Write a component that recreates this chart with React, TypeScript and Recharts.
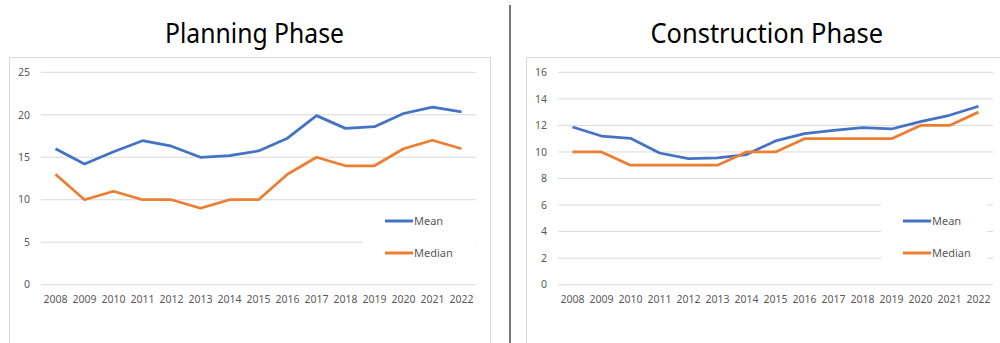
import React from "react";
import { LineChart, Line, XAxis, YAxis, CartesianGrid, Legend } from "recharts";

const years = ["2008","2009","2010","2011","2012","2013","2014","2015","2016","2017","2018","2019","2020","2021","2022"];
const planningMean = [16.0, 14.2, 15.65, 16.95, 16.3, 15.0, 15.2, 15.75, 17.25, 19.9, 18.4, 18.6, 20.15, 20.9, 20.35];
const planningMedian = [13, 10, 11, 10, 10, 9, 10, 10, 13, 15, 14, 14, 16, 17, 16];
const constructionMean = [11.88, 11.2, 11.03, 9.92, 9.5, 9.55, 9.8, 10.83, 11.38, 11.63, 11.83, 11.73, 12.29, 12.76, 13.44];
const constructionMedian = [10, 10, 9, 9, 9, 9, 10, 10, 11, 11, 11, 11, 12, 12, 13];
const planningTicks = [0, 5, 10, 15, 20, 25];
const constructionTicks = [0, 2, 4, 6, 8, 10, 12, 14, 16];

const BLUE = "#4472C4";
const ORANGE = "#ED7D31";
const TEXT = "#595959";
const GRID = "#d9d9d9";
const FONT = "'Noto Sans', sans-serif";

const build = (mean: number[], median: number[]) =>
  years.map((y, i) => ({ year: y, Mean: mean[i], Median: median[i] }));

const planningData = build(planningMean, planningMedian);
const constructionData = build(constructionMean, constructionMedian);

const LegendBox = ({ width }: { width: number }) => (
  <div style={{ width, height: 59, background: "#ffffff", position: "relative", fontFamily: FONT, fontSize: 11, color: TEXT }}>
    {[{ name: "Mean", color: BLUE, y: 17.7 }, { name: "Median", color: ORANGE, y: 49.5 }].map((it) => (
      <div key={it.name} style={{ position: "absolute", left: 22, top: it.y - 8, height: 16, display: "flex", alignItems: "center" }}>
        <svg width={28} height={4} style={{ display: "block" }}>
          <line x1={0} y1={2} x2={28} y2={2} stroke={it.color} strokeWidth={3} />
        </svg>
        <span style={{ marginLeft: 1, lineHeight: "16px" }}>{it.name}</span>
      </div>
    ))}
  </div>
);

const Panel = ({ data, ticks, max, legendLeft, legendWidth, marginLeft, marginRight }: any) => (
  <LineChart
    width={500}
    height={343}
    data={data}
    margin={{ top: 72.3, right: marginRight, bottom: 28.3, left: marginLeft }}
  >
    <CartesianGrid vertical={false} stroke={GRID} strokeWidth={1} />
    <XAxis
      dataKey="year"
      scale="band"
      axisLine={false}
      tickLine={false}
      tickSize={6}
      tickMargin={5}
      height={30}
      interval={0}
      tick={{ fill: TEXT, fontSize: 10.5, fontFamily: FONT }}
    />
    <YAxis
      domain={[0, max]}
      ticks={ticks}
      axisLine={false}
      tickLine={false}
      tickSize={6}
      tickMargin={5}
      width={41}
      tick={{ fill: TEXT, fontSize: 10.5, fontFamily: FONT }}
    />
    <Legend
      layout="horizontal"
      verticalAlign="middle"
      align="center"
      wrapperStyle={{ position: "absolute", left: legendLeft, top: 203, width: legendWidth, height: 59 }}
      content={() => <LegendBox width={legendWidth} />}
    />
    <Line dataKey="Mean" stroke={BLUE} strokeWidth={2.75} dot={false} isAnimationActive={false} strokeLinejoin="round" />
    <Line dataKey="Median" stroke={ORANGE} strokeWidth={2.75} dot={false} isAnimationActive={false} strokeLinejoin="round" />
  </LineChart>
);

export default function App() {
  return (
    <div style={{ position: "absolute", left: 0, top: 0, width: 1000, height: 343, overflow: "hidden", background: "#fff" }}>
      <div style={{ position: "absolute", left: 9, top: 57, width: 480, height: 320, border: `1px solid ${GRID}` }} />
      <div style={{ position: "absolute", left: 526, top: 57, width: 500, height: 320, border: `1px solid ${GRID}` }} />
      <div style={{ position: "absolute", left: 509, top: 5, width: 2, height: 340, background: "#777777" }} />
      <svg width={1000} height={55} style={{ position: "absolute", left: 0, top: 0 }}>
        <text x={165} y={42.7} fontSize={28} fontFamily="'Noto Sans', sans-serif" fill="#000" textLength={179} lengthAdjust="spacingAndGlyphs">Planning Phase</text>
        <text x={650.5} y={42.7} fontSize={28} fontFamily="'Noto Sans', sans-serif" fill="#000" textLength={232.5} lengthAdjust="spacingAndGlyphs">Construction Phase</text>
      </svg>
      <div style={{ position: "absolute", left: 0, top: 0 }}>
        <Panel data={planningData} ticks={planningTicks} max={25} legendLeft={363} legendWidth={112} marginLeft={0} marginRight={24} />
      </div>
      <div style={{ position: "absolute", left: 500, top: 0 }}>
        <Panel data={constructionData} ticks={constructionTicks} max={16} legendLeft={381} legendWidth={106} marginLeft={17} marginRight={7} />
      </div>
    </div>
  );
}
